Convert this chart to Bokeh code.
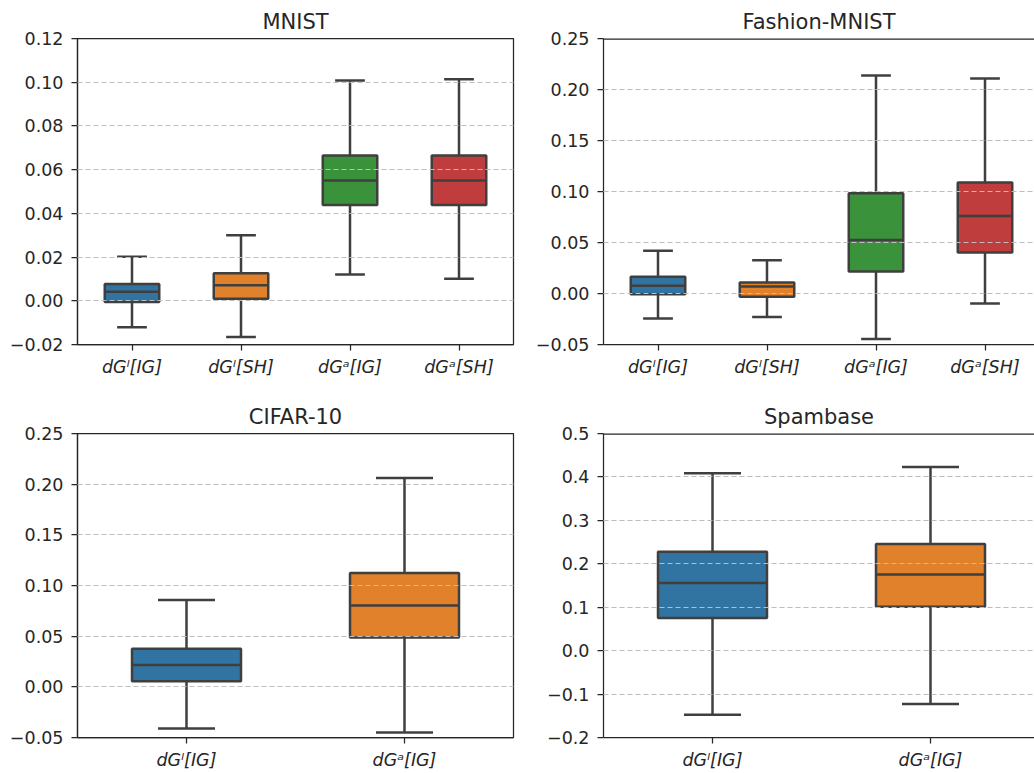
from bokeh.plotting import figure
from bokeh.layouts import column, row
from bokeh.models import FixedTicker, Range1d, Span
from bokeh.embed import file_html
from bokeh.resources import INLINE

# ---------------- data ----------------
palette = ["#3274a1", "#e1812c", "#3a923a", "#c03d3e"]

mnist_labels = ["dGˡ[IG]", "dGˡ[SH]", "dGᵃ[IG]", "dGᵃ[SH]"]
mnist_lower = [-0.0121, -0.0166, 0.0120, 0.0101]
mnist_q1 = [-0.0006, 0.0009, 0.0438, 0.0438]
mnist_med = [0.0041, 0.0071, 0.0550, 0.0550]
mnist_q3 = [0.0077, 0.0126, 0.0665, 0.0665]
mnist_upper = [0.0201, 0.0300, 0.1008, 0.1014]
mnist_yticks = [-0.02, 0.0, 0.02, 0.04, 0.06, 0.08, 0.10, 0.12]
mnist_ylabels = ["−0.02", "0.00", "0.02", "0.04", "0.06", "0.08", "0.10", "0.12"]

fashion_labels = ["dGˡ[IG]", "dGˡ[SH]", "dGᵃ[IG]", "dGᵃ[SH]"]
fashion_lower = [-0.0246, -0.0230, -0.0446, -0.0098]
fashion_q1 = [-0.0007, -0.0033, 0.0216, 0.0403]
fashion_med = [0.0075, 0.0069, 0.0525, 0.0761]
fashion_q3 = [0.0164, 0.0108, 0.0984, 0.1089]
fashion_upper = [0.0420, 0.0325, 0.2138, 0.2108]
fashion_yticks = [-0.05, 0.0, 0.05, 0.10, 0.15, 0.20, 0.25]
fashion_ylabels = ["−0.05", "0.00", "0.05", "0.10", "0.15", "0.20", "0.25"]

cifar_labels = ["dGˡ[IG]", "dGᵃ[IG]"]
cifar_lower = [-0.0410, -0.0450]
cifar_q1 = [0.0056, 0.0486]
cifar_med = [0.0215, 0.0803]
cifar_q3 = [0.0377, 0.1124]
cifar_upper = [0.0856, 0.2060]
cifar_yticks = [-0.05, 0.0, 0.05, 0.10, 0.15, 0.20, 0.25]
cifar_ylabels = ["−0.05", "0.00", "0.05", "0.10", "0.15", "0.20", "0.25"]

spam_labels = ["dGˡ[IG]", "dGᵃ[IG]"]
spam_lower = [-0.1477, -0.1230]
spam_q1 = [0.0754, 0.1008]
spam_med = [0.1560, 0.1754]
spam_q3 = [0.2277, 0.2454]
spam_upper = [0.4085, 0.4230]
spam_yticks = [-0.2, -0.1, 0.0, 0.1, 0.2, 0.3, 0.4, 0.5]
spam_ylabels = ["−0.2", "−0.1", "0.0", "0.1", "0.2", "0.3", "0.4", "0.5"]

# ---------------- styles ----------------
FONT = "DejaVu Sans"
TXT = "#262626"
SPINE = "#262626"
GRAY = "#3f3f3f"
FULL_W = 436
BOX_W = 0.5
CAP_W = 0.25


def make(title, labels, lower, q1, med, q3, upper, yticks, ylabels,
         frame_w, frame_h, mb, right_side):
    n = len(labels)
    idx = list(range(n))
    unit = FULL_W / n
    x_end = -0.5 + frame_w / unit
    p = figure(frame_width=frame_w, frame_height=frame_h,
               x_range=Range1d(-0.5, x_end),
               y_range=Range1d(yticks[0], yticks[-1]),
               output_backend="svg", toolbar_location=None,
               min_border_left=mb[0], min_border_right=mb[1],
               min_border_top=mb[2], min_border_bottom=mb[3])
    p.title.text = title
    p.title.text_font = FONT
    p.title.text_font_size = "21px"
    p.title.text_font_style = "normal"
    p.title.text_color = TXT
    p.title.align = "center"
    p.title.standoff = 10
    if right_side:
        p.title.offset = (FULL_W - frame_w) / 2

    colors = palette[:n]
    # whiskers
    p.segment(x0=idx, x1=idx, y0=q3, y1=upper, line_color=GRAY, line_width=2.5)
    p.segment(x0=idx, x1=idx, y0=q1, y1=lower, line_color=GRAY, line_width=2.5)
    # caps
    cx0 = [i - CAP_W / 2 for i in idx]
    cx1 = [i + CAP_W / 2 for i in idx]
    p.segment(x0=cx0, x1=cx1, y0=upper, y1=upper, line_color=GRAY, line_width=2.5,
              line_cap="square")
    p.segment(x0=cx0, x1=cx1, y0=lower, y1=lower, line_color=GRAY, line_width=2.5,
              line_cap="square")
    # boxes
    p.vbar(x=idx, width=BOX_W, bottom=q1, top=q3, fill_color=colors,
           line_color=GRAY, line_width=2.5)
    # medians
    mx0 = [i - BOX_W / 2 for i in idx]
    mx1 = [i + BOX_W / 2 for i in idx]
    p.segment(x0=mx0, x1=mx1, y0=med, y1=med, line_color=GRAY, line_width=2.5)

    # axes
    p.xaxis.ticker = FixedTicker(ticks=idx)
    p.xaxis.major_label_overrides = {i: lab for i, lab in zip(idx, labels)}
    p.xaxis.major_label_text_font_style = "italic"
    p.yaxis.ticker = FixedTicker(ticks=yticks)
    p.yaxis.major_label_overrides = {t: lab for t, lab in zip(yticks, ylabels)}
    for ax in (p.xaxis[0], p.yaxis[0]):
        ax.major_label_text_font = FONT
        ax.major_label_text_font_size = "17.5px"
        ax.major_label_text_color = TXT
        ax.major_tick_in = 0
        ax.major_tick_out = 6
        ax.major_tick_line_color = SPINE
        ax.major_tick_line_width = 1.25
        ax.minor_tick_line_color = None
        ax.axis_line_color = SPINE
        ax.axis_line_width = 1.25
    p.yaxis.major_label_standoff = 8
    p.xaxis.major_label_standoff = 6

    p.xgrid.grid_line_color = None
    p.ygrid.ticker = FixedTicker(ticks=yticks[1:-1])
    p.ygrid.grid_line_color = "#bdbdbd"
    p.ygrid.grid_line_dash = "5 3"
    p.ygrid.grid_line_width = 1.1
    p.ygrid.level = "overlay"

    if right_side:
        p.outline_line_color = None
        p.add_layout(Span(location=yticks[-1], dimension="width",
                          line_color=SPINE, line_width=2.5))
    else:
        p.outline_line_color = SPINE
        p.outline_line_width = 1.25
        p.outline_line_alpha = 1.0
    p.background_fill_color = "white"
    p.border_fill_color = "white"
    return p


p1 = make("MNIST", mnist_labels, mnist_lower, mnist_q1, mnist_med, mnist_q3,
          mnist_upper, mnist_yticks, mnist_ylabels, 436, 306, (77, 10, 38, 51), False)
p2 = make("Fashion-MNIST", fashion_labels, fashion_lower, fashion_q1, fashion_med,
          fashion_q3, fashion_upper, fashion_yticks, fashion_ylabels, 431, 306,
          (80, 0, 38, 51), True)
p3 = make("CIFAR-10", cifar_labels, cifar_lower, cifar_q1, cifar_med, cifar_q3,
          cifar_upper, cifar_yticks, cifar_ylabels, 436, 304, (77, 10, 38, 36), False)
p4 = make("Spambase", spam_labels, spam_lower, spam_q1, spam_med, spam_q3,
          spam_upper, spam_yticks, spam_ylabels, 431, 304, (80, 0, 38, 36), True)

layout = column(row(p1, p2, spacing=0), row(p3, p4, spacing=0), spacing=0)

open("out.html", "w").write(file_html(layout, INLINE))
